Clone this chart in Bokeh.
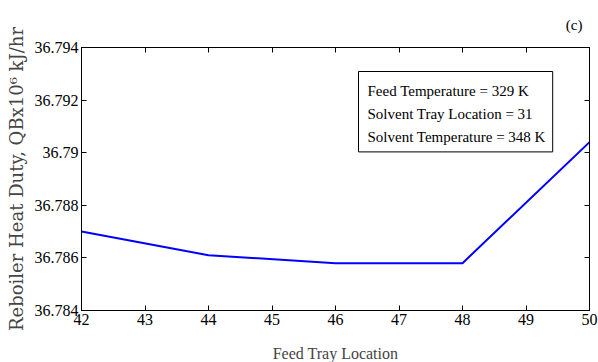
from bokeh.plotting import figure
from bokeh.models import LinearAxis, FixedTicker, Label, Range1d, Title
from bokeh.embed import file_html
from bokeh.resources import INLINE

# Data
feed_tray = [42, 44, 46, 48, 50]
heat_duty = [36.7870, 36.7861, 36.7858, 36.7858, 36.7904]

x_ticks = [42, 43, 44, 45, 46, 47, 48, 49, 50]
y_ticks = [36.784, 36.786, 36.788, 36.790, 36.792, 36.794]
y_tick_labels = ["36.784", "36.786", "36.788", "36.79", "36.792", "36.794"]

info_lines = ["Feed Temperature = 329 K",
              "Solvent Tray Location = 31",
              "Solvent Temperature = 348 K"]

FONT = "Liberation Serif"

p = figure(width=598, height=362, output_backend="svg", toolbar_location=None,
           x_range=Range1d(42, 50), y_range=Range1d(36.784, 36.794),
           min_border_left=81, min_border_right=9, min_border_top=46, min_border_bottom=53)
p.frame_width = 508
p.frame_height = 263
p.xgrid.visible = False
p.ygrid.visible = False
p.outline_line_color = "black"
p.outline_line_width = 1
p.background_fill_color = "white"
p.border_fill_color = "white"

p.line(feed_tray, heat_duty, line_color="#0000ff", line_width=2)

def style_axis(ax, show_labels):
    ax.major_tick_in = 5
    ax.major_tick_out = 0
    ax.minor_tick_line_color = None
    ax.axis_line_color = "black"
    ax.major_tick_line_color = "black"
    ax.major_label_text_font = FONT
    if show_labels:
        ax.major_label_text_color = "black"
        ax.major_label_text_font_size = "16px"
        ax.major_label_standoff = 3
    else:
        ax.major_label_text_color = None
        ax.major_label_standoff = 0

xa = p.xaxis[0]
xa.ticker = FixedTicker(ticks=x_ticks)
style_axis(xa, True)
xa.axis_label = "Feed Tray Location"
xa.axis_label_text_font = FONT
xa.axis_label_text_font_style = "normal"
xa.axis_label_text_font_size = "16px"
xa.axis_label_standoff = 17

ya = p.yaxis[0]
ya.ticker = FixedTicker(ticks=y_ticks)
ya.major_label_overrides = {t: l for t, l in zip(y_ticks, y_tick_labels)}
style_axis(ya, True)
ya.axis_label = "Reboiler Heat Duty, QBx10\u2076 kJ/hr"
ya.axis_label_text_font = "DejaVu Serif"
ya.axis_label_text_font_style = "normal"
ya.axis_label_text_font_size = "18px"
ya.axis_label_standoff = 5

top = LinearAxis(ticker=FixedTicker(ticks=x_ticks))
style_axis(top, False)
p.add_layout(top, "above")
right = LinearAxis(ticker=FixedTicker(ticks=y_ticks))
style_axis(right, False)
p.add_layout(right, "right")

p.add_layout(Title(text="(c)", align="right", offset=7, text_font=FONT,
                   text_font_size="15px", text_font_style="normal",
                   text_color="black", standoff=29), "above")

# info box
p.add_layout(Label(x=277, y=239, x_units="screen", y_units="screen",
                   text="\n".join(info_lines), text_font=FONT, text_font_size="15px",
                   text_align="left", text_baseline="top", text_color="black",
                   text_line_height=1.45,
                   padding=(9, 7, 11, 7), border_line_color="black", border_line_width=1,
                   background_fill_color="white"))

open("out.html", "w").write(file_html(p, INLINE))
